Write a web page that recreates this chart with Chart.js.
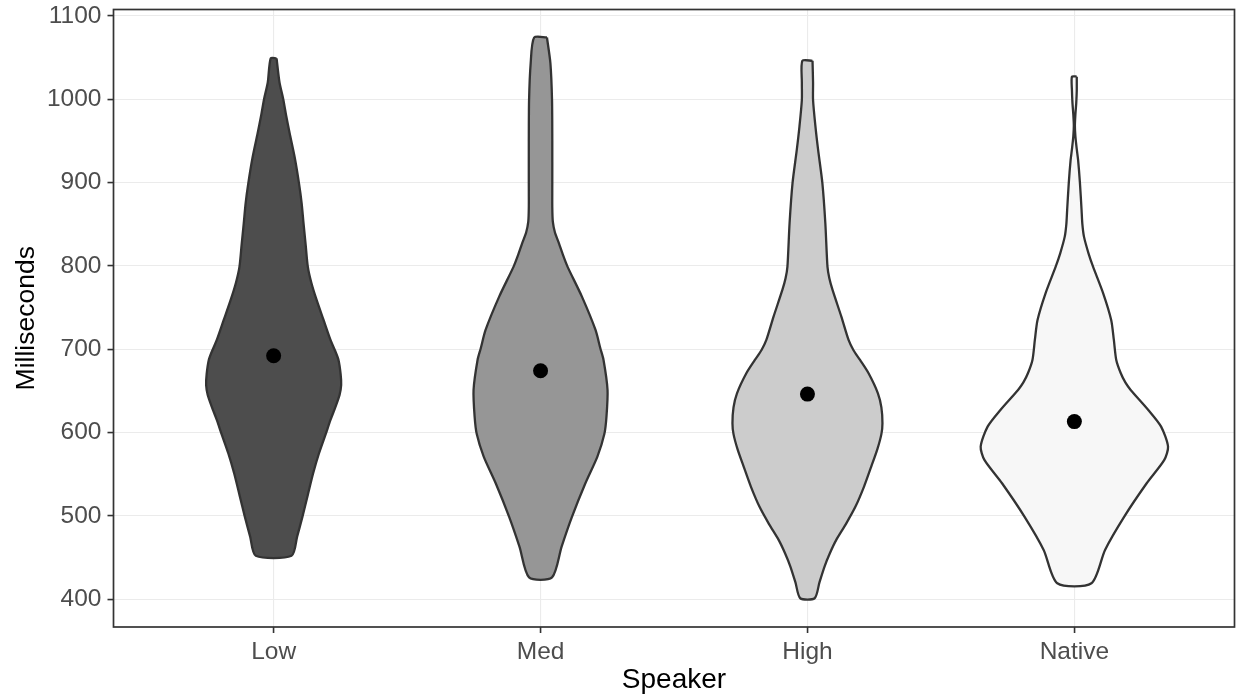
<!DOCTYPE html>
<html>
<head>
<meta charset="utf-8">
<script src="https://cdn.jsdelivr.net/npm/chart.js@4.4.1/dist/chart.umd.min.js"></script>
<style>
  html, body { margin: 0; padding: 0; background: #ffffff; }
  #wrap { width: 1238px; height: 696px; }
</style>
</head>
<body>
<div id="wrap"><canvas id="chart" width="1238" height="696"></canvas></div>
<script>
// Speaker groups and the mean response time of each
const categories = ['Low', 'Med', 'High', 'Native'];
const meanMs = [692, 674, 646, 613];
const yTicks = [400, 500, 600, 700, 800, 900, 1000, 1100];

// Violin outlines: response time (ms) and half-width of the density (in category units)
const lowMs   = [1049, 1020, 1000, 980, 959, 930, 899, 875, 851, 825, 799, 780, 759, 735, 711, 699, 687, 670, 657, 645, 631, 615, 598, 575, 551, 525, 499, 475, 452];
const lowHalf = [0.011, 0.022, 0.036, 0.047, 0.060, 0.079, 0.095, 0.105, 0.112, 0.120, 0.128, 0.141, 0.161, 0.187, 0.213, 0.229, 0.243, 0.251, 0.253, 0.247, 0.232, 0.213, 0.195, 0.170, 0.148, 0.128, 0.108, 0.088, 0.067];

const medMs   = [1074, 1043, 999, 950, 899, 870, 853, 840, 827, 813, 799, 763, 723, 701, 687, 651, 619, 598, 571, 539, 499, 463, 426];
const medHalf = [0.024, 0.037, 0.043, 0.044, 0.044, 0.044, 0.046, 0.054, 0.069, 0.084, 0.101, 0.155, 0.206, 0.224, 0.236, 0.251, 0.247, 0.239, 0.213, 0.168, 0.118, 0.079, 0.043];

const highMs   = [1046, 1020, 999, 967, 939, 899, 851, 799, 785, 771, 739, 711, 699, 687, 671, 647, 630, 611, 598, 580, 559, 535, 511, 490, 471, 455, 439, 420, 401];
const highHalf = [0.019, 0.021, 0.021, 0.030, 0.040, 0.056, 0.067, 0.075, 0.082, 0.094, 0.127, 0.154, 0.172, 0.197, 0.229, 0.264, 0.277, 0.281, 0.277, 0.262, 0.239, 0.212, 0.180, 0.144, 0.108, 0.084, 0.064, 0.045, 0.027];

const nativeMs   = [1027, 1010, 995, 982, 968, 955, 940, 927, 899, 867, 850, 835, 815, 799, 767, 735, 711, 687, 671, 660, 651, 627, 607, 583, 567, 539, 499, 459, 419];
const nativeHalf = [0.009, 0.009, 0.007, 0.004, 0.002, 0.004, 0.009, 0.014, 0.021, 0.027, 0.030, 0.036, 0.053, 0.070, 0.108, 0.138, 0.148, 0.157, 0.174, 0.191, 0.211, 0.277, 0.325, 0.351, 0.337, 0.271, 0.187, 0.115, 0.064];

const violinMs   = [lowMs, medMs, highMs, nativeMs];
const violinHalf = [lowHalf, medHalf, highHalf, nativeHalf];
const fillColors = ['#4d4d4d', '#969696', '#cccccc', '#f7f7f7'];

// Closed outline: right side top-to-bottom, then left side bottom-to-top
function outline(groupIndex) {
  const center = groupIndex + 1;
  const ms = violinMs[groupIndex];
  const half = violinHalf[groupIndex];
  const right = ms.map((y, k) => ({ x: center + half[k], y }));
  const left = ms.map((y, k) => ({ x: center - half[k], y })).reverse();
  return right.concat(left, [right[0]]);
}

const violinSets = categories.map((name, i) => ({
  label: name,
  data: outline(i),
  showLine: true,
  fill: 'shape',
  backgroundColor: fillColors[i],
  borderColor: '#333333',
  borderWidth: 2.3,
  borderJoinStyle: 'round',
  tension: 0.25,
  pointRadius: 0,
  pointHoverRadius: 0,
  order: 2
}));

const meanSet = {
  label: 'Mean',
  data: categories.map((c, i) => ({ x: i + 1, y: meanMs[i] })),
  showLine: false,
  pointRadius: 7.5,
  pointHoverRadius: 7.5,
  pointBackgroundColor: '#000000',
  pointBorderWidth: 0,
  order: 0
};

// Panel frame drawn over the data
const panelBorder = {
  id: 'panelBorder',
  afterDatasetsDraw(chart) {
    const { ctx, chartArea: a } = chart;
    ctx.save();
    ctx.strokeStyle = '#333333';
    ctx.lineWidth = 1.7;
    ctx.strokeRect(a.left, a.top, a.right - a.left, a.bottom - a.top);
    ctx.restore();
  }
};

const family = '"Liberation Sans", Arial, sans-serif';

new Chart(document.getElementById('chart'), {
  type: 'scatter',
  data: { datasets: violinSets.concat([meanSet]) },
  options: {
    responsive: false,
    animation: false,
    events: [],
    devicePixelRatio: 1,
    layout: { autoPadding: false, padding: { top: 9.5, right: 3.5, left: 0, bottom: 0 } },
    plugins: { legend: { display: false }, tooltip: { enabled: false } },
    scales: {
      x: {
        type: 'linear',
        min: 0.4,
        max: 4.6,
        afterBuildTicks: axis => { axis.ticks = categories.map((c, i) => ({ value: i + 1 })); },
        afterFit: scale => { scale.height = 69; scale.paddingLeft = 0; scale.paddingRight = 0; },
        ticks: {
          autoSkip: false,
          maxRotation: 0,
          padding: 5,
          color: '#4d4d4d',
          font: { family, size: 24.5 },
          callback: value => categories[Math.round(value) - 1]
        },
        grid: { color: '#ebebeb', lineWidth: 1.1, tickColor: '#333333', tickLength: 6, tickWidth: 1.6 },
        border: { display: false },
        title: { display: true, text: 'Speaker', color: '#000000', font: { family, size: 28, lineHeight: 1.0 }, padding: { top: 0, bottom: 2 } }
      },
      y: {
        type: 'linear',
        min: 366.5,
        max: 1107.6,
        afterBuildTicks: axis => { axis.ticks = yTicks.map(v => ({ value: v })); },
        afterFit: scale => { scale.width = 113.5; scale.paddingTop = 0; scale.paddingBottom = 0; },
        ticks: { padding: 6, color: '#4d4d4d', font: { family, size: 24.5 }, callback: value => String(value) },
        grid: { color: '#ebebeb', lineWidth: 1.1, tickColor: '#333333', tickLength: 6, tickWidth: 1.6 },
        border: { display: false },
        title: { display: true, text: 'Milliseconds', color: '#000000', font: { family, size: 26.5 }, padding: { top: 11, bottom: 0 } }
      }
    }
  },
  plugins: [panelBorder]
});
</script>
</body>
</html>
